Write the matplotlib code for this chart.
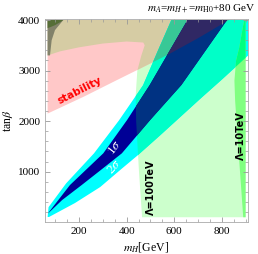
import numpy as np
import matplotlib
matplotlib.use("Agg")
import matplotlib.pyplot as plt
from matplotlib.ticker import MultipleLocator

plt.rcParams["font.family"] = ["Liberation Serif", "DejaVu Serif"]
plt.rcParams["mathtext.fontset"] = "stix"

# band edges (mH, tan beta)
sig2_left_mh = [68, 72, 146, 263, 368, 469, 532, 588]
sig2_left_tb = [105, 300, 771, 1364, 2016, 2709, 3400, 4000]
sig2_right_mh = [74, 183, 289, 373, 448, 541, 625, 709, 802, 911, 1060]
sig2_right_tb = [105, 381, 697, 1034, 1330, 1720, 2080, 2440, 2830, 3300, 4000]

sig1_left_mh = [70, 162, 302, 402, 497, 656]
sig1_left_tb = [180, 737, 1364, 2023, 2714, 4000]
sig1_right_mh = [71, 129, 211, 297, 380, 499, 630, 822]
sig1_right_tb = [180, 440, 736, 1054, 1364, 2023, 2714, 4000]

# Lambda = 100 TeV excluded region outline
lam100_mh = [900, 465, 452, 440, 438, 445, 462, 476, 470, 400, 300, 200, 120, 68, 68, 900]
lam100_tb = [100, 100, 1000, 2000, 2500, 3000, 3300, 3500, 3555, 3575, 3535, 3460, 3380, 3300, 4000, 4000]

# Lambda = 10 TeV strip
lam10_mh = [890, 873, 856, 853, 860, 873, 890, 895, 900, 900]
lam10_tb = [100, 1230, 2400, 2800, 3200, 3450, 3900, 4000, 4000, 100]

# stability excluded (above this line)
stab_mh = [68, 220, 360, 445, 580, 700, 830, 68]
stab_tb = [2150, 2484, 2814, 3012, 3330, 3640, 4000, 4000]

# top-left corner pieces
corner1_mh = [68, 78, 85, 99, 134, 68]
corner1_tb = [3300, 3300, 3600, 3800, 4000, 4000]
corner2_mh = [68, 80, 100, 122, 134, 68]
corner2_tb = [3840, 3860, 3900, 3960, 4000, 4000]


def band(lx, ly, rx, ry):
    return list(lx) + list(rx[::-1]), list(ly) + list(ry[::-1])


fig = plt.figure(figsize=(2.58, 2.54), dpi=100)
ax = fig.add_axes([0.1744, 0.1272, 0.9612 - 0.1744, 0.9252 - 0.1272])

green = ax.fill(lam100_mh, lam100_tb, color="#ccffcc", lw=0)[0]
pink = ax.fill(stab_mh, stab_tb, color="#ffc8c8", lw=0)[0]
beige = ax.fill(stab_mh, stab_tb, color="#d6cca4", lw=0)[0]
beige.set_clip_path(green)

x2, y2 = band(sig2_left_mh, sig2_left_tb, sig2_right_mh, sig2_right_tb)
x1, y1 = band(sig1_left_mh, sig1_left_tb, sig1_right_mh, sig1_right_tb)

s2 = ax.fill(x2, y2, color="#00ffff", lw=0)[0]
p = ax.fill(x2, y2, color="#00ffc8", lw=0)[0]
p.set_clip_path(green)
p = ax.fill(x2, y2, color="#38c896", lw=0)[0]
p.set_clip_path(pink)

ax.fill(x1, y1, color="#000096", lw=0)
p = ax.fill(x1, y1, color="#003282", lw=0)[0]
p.set_clip_path(green)
p = ax.fill(x1, y1, color="#302864", lw=0)[0]
p.set_clip_path(pink)

ax.fill(lam10_mh, lam10_tb, color="#80ff80", lw=0)
p = ax.fill(lam10_mh, lam10_tb, color="#00ff80", lw=0)[0]
p.set_clip_path(s2)

ax.fill(corner1_mh, corner1_tb, color="#82826a", lw=0)
ax.fill(corner2_mh, corner2_tb, color="#566e37", lw=0)

ax.text(205, 2600, "stability", color="red", fontsize=7.5, fontweight="bold",
        family="DejaVu Sans", rotation=27, ha="center", va="center")
ax.text(352, 1470, r"1$\sigma$", color="white", fontsize=9.5, rotation=52,
        ha="center", va="center")
ax.text(350, 1095, r"2$\sigma$", color="white", fontsize=9.5, rotation=48,
        ha="center", va="center")
ax.text(503, 700, "Λ=100TeV", color="black", fontsize=7, fontweight="bold",
        family="DejaVu Sans", rotation=90, ha="center", va="center")
ax.text(880, 1720, "Λ=10TeV", color="black", fontsize=7, fontweight="bold",
        family="DejaVu Sans", rotation=90, ha="center", va="center")

ax.set_xlim(57, 910)
ax.set_ylim(12, 4020)
ax.set_xticks([200, 400, 600, 800])
ax.set_yticks([1000, 2000, 3000, 4000])
ax.xaxis.set_minor_locator(MultipleLocator(50))
ax.yaxis.set_minor_locator(MultipleLocator(200))
ax.tick_params(which="both", direction="in", top=True, right=True,
               colors="#999999", labelcolor="black", labelsize=8)
ax.tick_params(which="major", length=3.5, width=0.6)
ax.tick_params(which="minor", length=2, width=0.5)
for s in ax.spines.values():
    s.set_color("#aaaaaa")
    s.set_linewidth(0.6)

ax.set_xlabel(r"$m_H$[GeV]", fontsize=8.5, labelpad=3)
ax.set_ylabel(r"tan$\beta$", fontsize=8.5, labelpad=2)
fig.text(0.99, 0.965, r"$m_A$=$m_{H+}$=$m_{\rm H0}$+80 GeV", fontsize=8,
         ha="right", va="center")

fig.savefig("out.png", dpi=100)
